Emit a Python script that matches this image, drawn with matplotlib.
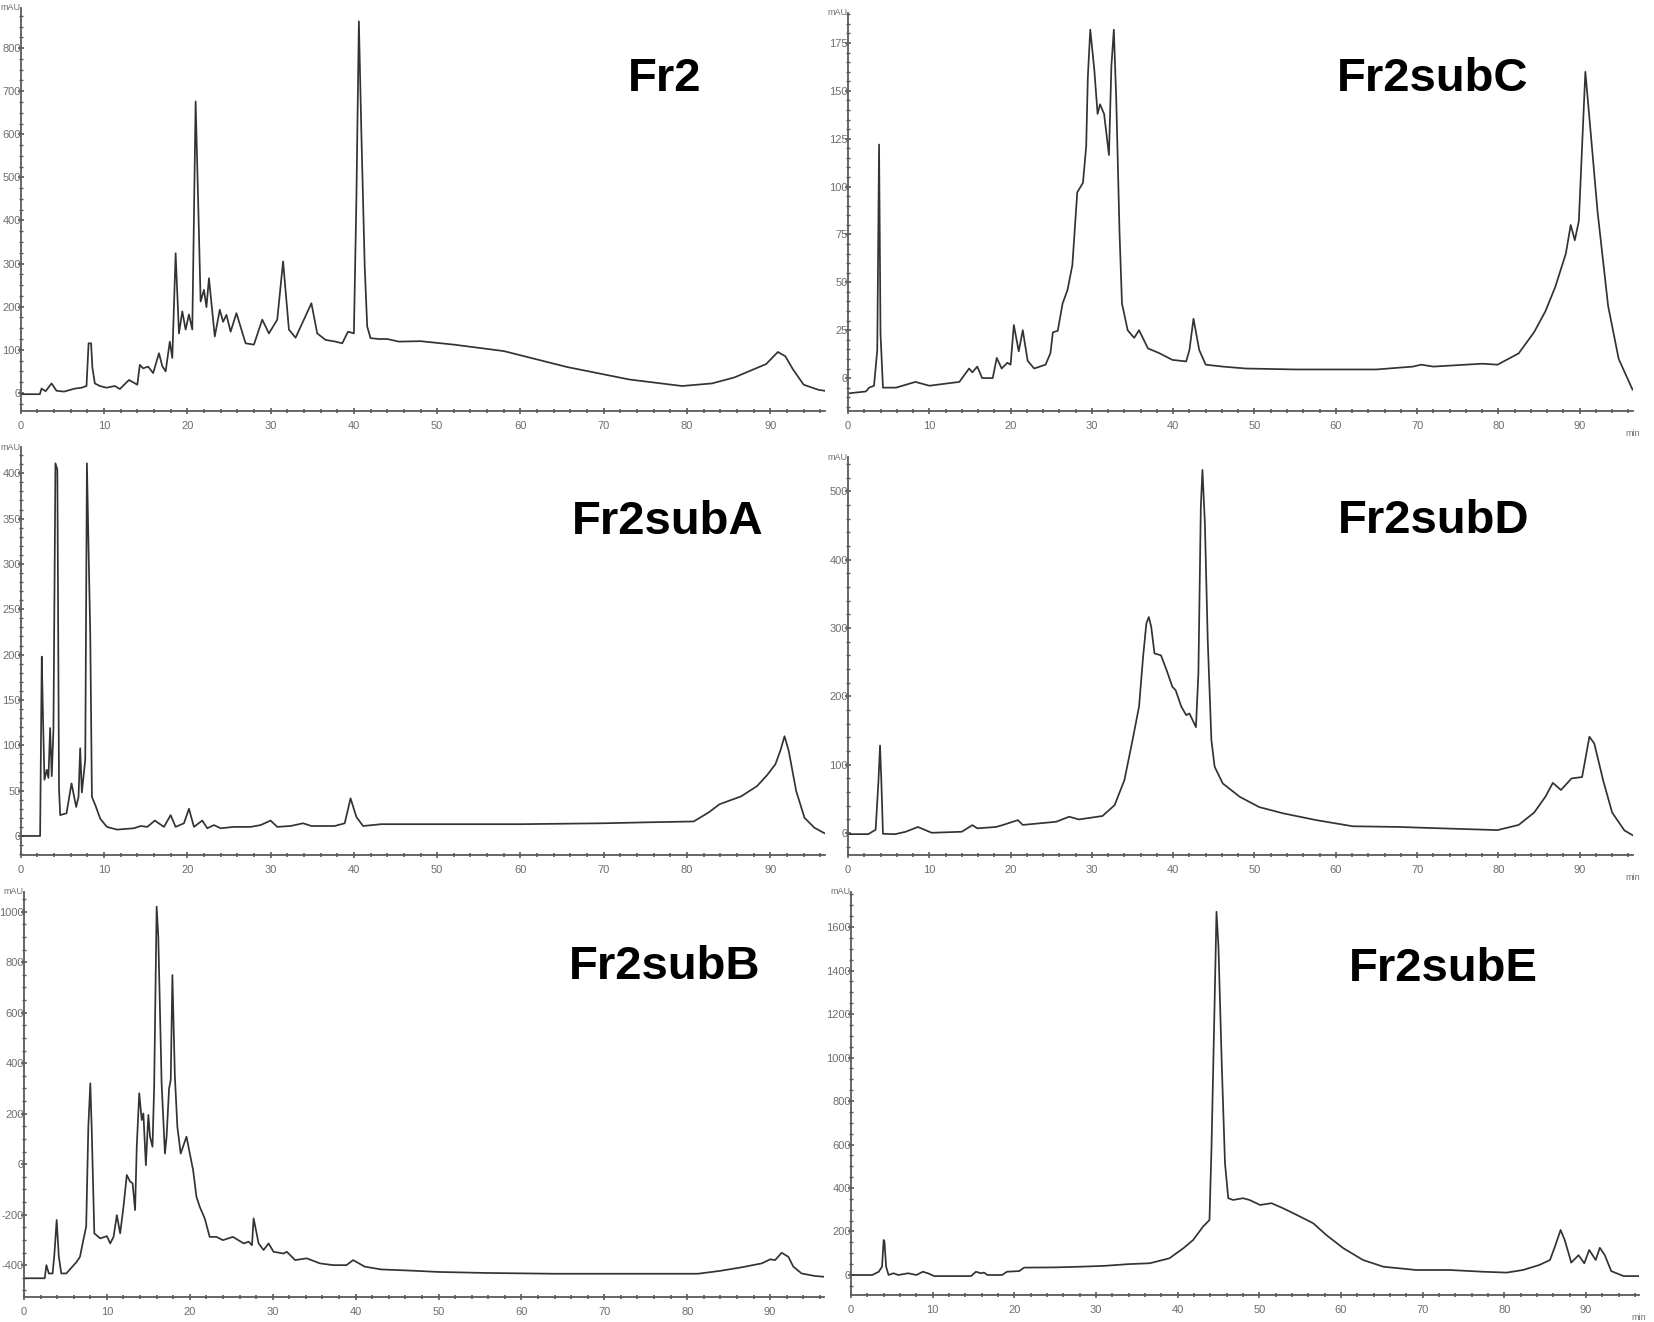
import matplotlib
matplotlib.use("Agg")
import matplotlib.pyplot as plt
from matplotlib.ticker import MultipleLocator

plt.rcParams['font.family'] = ['Liberation Sans', 'DejaVu Sans']
plt.rcParams['axes.unicode_minus'] = False

W, H = 1654, 1322

# ---------------- data (time in min, absorbance in mAU) ----------------
fr2_t = [0, 2.3, 2.5, 3.0, 3.7, 4.3, 5.2, 6.5, 7.3, 7.9, 8.15, 8.45, 8.6, 8.9, 9.5, 10.3,
         11.3, 11.9, 13.0, 14.0, 14.3, 14.7, 15.3, 15.9, 16.6, 17.0, 17.4, 17.9, 18.2, 18.6,
         19.0, 19.4, 19.8, 20.2, 20.6, 21.0, 21.3, 21.6, 22.0, 22.3, 22.6, 23.3, 23.9, 24.3,
         24.7, 25.2, 25.9, 27.0, 28.0, 29.0, 29.8, 30.8, 31.5, 32.2, 33.0, 34.0, 34.9, 35.6,
         36.6, 37.8, 38.6, 39.3, 40.0, 40.3, 40.6, 40.9, 41.3, 41.6, 42.0, 43.0, 44.0, 45.4,
         48, 52, 58, 65.6, 73.1, 79.4, 83, 85.7, 89.5, 90.9, 91.8, 92.7, 94.0, 95.8, 96.5]
fr2_v = [-3, -3, 10, 4, 22, 5, 3, 10, 12, 16, 115, 115, 60, 22, 16, 12,
         16, 9, 30, 19, 65, 57, 61, 46, 92, 62, 50, 119, 81, 324,
         138, 189, 147, 182, 147, 676, 448, 212, 239, 199, 266, 131, 193, 165,
         181, 142, 185, 115, 112, 170, 138, 170, 305, 147, 128, 170, 208, 138,
         123, 119, 115, 142, 138, 448, 862, 602, 293, 154, 127, 125, 125, 119,
         120, 112, 97, 60, 31, 16, 22, 36, 67, 95, 85, 55, 19, 7, 5]

subc_t = [0, 2.2, 2.6, 3.2, 3.6, 3.82, 4.0, 4.3, 5.9, 8.3, 10.0, 13.7, 14.9, 15.3, 15.9,
          16.5, 17.8, 18.3, 18.9, 19.6, 20.0, 20.4, 21.0, 21.5, 22.1, 22.9, 24.3, 24.9,
          25.2, 25.8, 26.4, 27.0, 27.6, 28.2, 28.9, 29.3, 29.5, 29.8, 30.3, 30.7, 31.0,
          31.5, 32.1, 32.4, 32.7, 33.0, 33.4, 33.7, 34.4, 35.2, 35.8, 36.9, 38.3, 39.9,
          41.6, 42.0, 42.5, 43.2, 44.0, 46.1, 48.9, 55, 65, 69.5, 70.5, 72, 78, 79.9,
          82.5, 84.4, 85.8, 87.0, 88.3, 88.9, 89.4, 89.9, 90.7, 91.3, 92.2, 93.5, 94.8, 96.5]
subc_v = [-8, -7, -5, -4, 14.6, 122, 23, -5, -5, -2, -4, -2, 5, 3, 6,
          0, 0, 10.5, 5, 8, 7, 27.7, 14, 25, 9, 5, 7, 13,
          23.9, 24.7, 39, 46, 59, 97, 102, 121, 157, 182, 161, 138, 143,
          138, 116.5, 163, 182, 145, 76, 39, 25, 21, 25, 15.5, 13, 9.5,
          8.7, 14.7, 31, 14.7, 7, 6, 5, 4.5, 4.5, 6, 7, 6, 7.5, 7,
          12.9, 24, 35, 47.6, 65, 80, 72, 82, 160, 131, 87, 37.7, 10, -6]

suba_t = [0, 2.33, 2.53, 2.65, 2.85, 3.13, 3.33, 3.53, 3.73, 3.93, 4.17, 4.4, 4.6, 4.74,
          5.5, 6.1, 6.66, 6.94, 7.14, 7.34, 7.75, 7.95, 8.15, 8.35, 8.55, 8.96, 9.55, 10.35,
          11.56, 13.6, 14.4, 15.2, 16.1, 17.2, 18.0, 18.6, 19.6, 20.2, 20.8, 21.8, 22.4,
          23.2, 24.0, 25.6, 27.6, 28.8, 30.0, 30.8, 32.4, 33.9, 34.9, 37.7, 38.9, 39.6,
          40.3, 41.1, 43.3, 48.1, 60, 70, 75, 80.8, 82.6, 83.9, 86.5, 88.4, 89.6, 90.6,
          91.2, 91.7, 92.2, 93.1, 94.1, 95.3, 96.5]
suba_v = [0, 0, 197.8, 142.6, 62, 73, 64, 119, 66, 117, 411, 404, 52.6, 23,
          25, 58, 32, 43, 96.7, 48, 84, 411, 315, 223, 43, 34, 19, 10,
          7, 8.5, 11, 10, 17, 10, 23, 10, 14, 30, 10, 17, 8.5,
          12, 8.5, 10, 10, 12, 17, 10, 11, 14, 11, 11, 14, 41.5,
          21, 11, 13, 13, 13, 14, 15, 16, 26, 35, 43.7, 55, 67, 79,
          94, 110, 94, 49.6, 20, 9, 3]

subd_t = [0, 2.5, 3.4, 3.75, 3.94, 4.1, 4.3, 5.8, 7.1, 8.6, 10.3, 14.0, 15.3, 15.9, 18.2,
          19.0, 20.9, 21.5, 25.6, 27.2, 28.4, 31.3, 32.8, 34.0, 35.0, 35.8, 36.3, 36.7,
          37.0, 37.3, 37.7, 38.5, 39.2, 39.9, 40.3, 41.0, 41.6, 42.0, 42.4, 42.8, 43.1,
          43.4, 43.6, 43.9, 44.25, 44.7, 45.1, 46.1, 48.2, 50.6, 53.5, 57.6, 62.1, 67.9,
          70.3, 79.9, 82.5, 84.4, 85.8, 86.7, 87.7, 89.0, 90.3, 91.2, 91.8, 92.9, 94.0,
          95.5, 96.5]
subd_v = [-1.5, -1.5, 5, 77, 128, 77, -1, -1.5, 2, 9, 0.5, 2, 11.7, 7, 9,
          11.7, 19, 12, 16.6, 24, 20, 25, 41, 77.5, 136, 185, 258, 306.6,
          316, 301.6, 262.7, 260, 238, 214, 209, 185, 172.5, 175, 165, 155, 233,
          477, 531, 453, 282, 136, 97, 72.6, 53, 38, 29, 19, 10, 9,
          8, 4.4, 12, 30, 53.5, 73.5, 63, 80, 82, 141, 131, 76.6, 30,
          4, -3]

subb_t = [0, 2.5, 2.7, 3.0, 3.45, 3.66, 3.94, 4.2, 4.5, 5.1, 6.35, 6.75, 7.2, 7.5, 7.76,
          8.0, 8.16, 8.48, 9.2, 10.0, 10.4, 10.8, 11.2, 11.6, 12.0, 12.4, 12.8, 13.1, 13.4,
          13.6, 13.9, 14.2, 14.4, 14.7, 15.0, 15.2, 15.5, 15.7, 16.0, 16.2, 16.6, 17.0,
          17.2, 17.5, 17.7, 17.9, 18.2, 18.5, 18.9, 19.6, 20.0, 20.4, 20.8, 21.2, 21.8,
          22.4, 23.2, 24.0, 25.2, 26.5, 27.1, 27.5, 27.7, 28.3, 28.9, 29.5, 30.1, 31.3,
          31.7, 32.7, 34.1, 35.7, 37.3, 38.9, 39.7, 41.1, 43.1, 46.9, 50.0, 55.8, 63.8,
          81.3, 83.9, 86.5, 89.0, 90.0, 90.6, 91.4, 92.2, 92.8, 93.8, 95.4, 96.5]
subb_v = [-452, -452, -400, -433, -433, -360, -221, -367, -433, -433, -387, -367, -294, -248, 148,
          320, 148, -274, -294, -285, -314, -288, -202, -274, -169, -43, -69, -76, -182,
          69, 281, 175, 201, -4, 195, 109, 69, 307, 1020, 901, 320, 42,
          109, 300, 333, 749, 347, 148, 42, 109, 42, -24, -129, -169, -215,
          -288, -288, -301, -288, -314, -307, -321, -215, -314, -340, -314, -347, -354,
          -347, -380, -373, -393, -400, -400, -380, -406, -417, -422, -427, -431, -434,
          -434, -423, -409, -393, -377, -380, -351, -367, -406, -433, -443, -446]

sube_t = [0, 2.6, 3.4, 3.8, 4.0, 4.1, 4.3, 4.6, 5.2, 5.8, 7.0, 8.0, 8.8, 9.4, 10.2, 14.7,
          15.3, 15.9, 16.3, 16.7, 18.5, 19.1, 20.6, 21.2, 25, 28, 31, 34, 36.6, 39.0, 40.7,
          41.9, 43.1, 43.9, 44.15, 44.5, 44.76, 45.0, 45.4, 45.8, 46.2, 46.8, 48.0, 48.8,
          50.1, 51.5, 52.9, 54.6, 56.6, 58.2, 60.3, 62.7, 65.2, 69.2, 73.3, 77.4, 80.3,
          82.3, 84.3, 85.6, 86.2, 86.9, 87.4, 88.0, 88.2, 89.1, 89.8, 90.4, 91.2, 91.7,
          92.3, 93.1, 94.6, 96.5]
sube_v = [0, 0, 15, 38, 161, 153, 38, 0, 8, 0, 8, 0, 15, 8, -5, -5,
          15, 8, 11, 0, 0, 15, 18, 34, 35, 38, 42, 50, 54, 77, 123,
          161, 222, 253, 590, 1203, 1670, 1509, 973, 513, 353, 345, 353, 345,
          322, 330, 307, 276, 238, 184, 123, 69, 38, 23, 23, 15, 11,
          23, 46, 69, 130, 207, 161, 84, 57, 91, 54, 115, 69, 125,
          92, 18, -5, -5]

titles = ["Fr2", "Fr2subC", "Fr2subA", "Fr2subD", "Fr2subB", "Fr2subE"]
series = [(fr2_t, fr2_v), (subc_t, subc_v), (suba_t, suba_v),
          (subd_t, subd_v), (subb_t, subb_v), (sube_t, sube_v)]
yticks = [list(range(0, 801, 100)), list(range(0, 176, 25)), list(range(0, 401, 50)),
          list(range(0, 501, 100)), list(range(-400, 1001, 200)), list(range(0, 1601, 200))]
xticks = list(range(0, 91, 10))

# ---------------- layout (pixels) ----------------
boxes = [(20.7, 824.5, 8, 411, (-42, 893), 4),
         (848, 1632.5, 13, 411, (-17.2, 190.7), 5),
         (20.7, 824.5, 447, 855, (-21, 429), 5),
         (848, 1632.5, 457, 855, (-32, 550), 5),
         (24, 824, 892, 1296.7, (-525, 1078), 4),
         (851, 1639, 892, 1295, (-92, 1761), 4)]
title_pos = [(665, 79), (1433, 79), (668, 522), (1434, 521), (665, 967), (1443, 969)]
show_min = [False, True, False, True, False, True]

fig = plt.figure(figsize=(W / 100, H / 100), dpi=100)
fig.patch.set_facecolor('white')

axis_col = '#5a5a5a'
lab_col = '#6e6e6e'
line_col = '#333333'

for i, ((t, v), box) in enumerate(zip(series, boxes)):
    l, r, tp, b, ylim, nminor = box
    ax = fig.add_axes([l / W, 1 - b / H, (r - l) / W, (b - tp) / H])
    ax.plot(t, v, color=line_col, lw=1.25, solid_joinstyle='round')
    ax.set_xlim(0, 96.5)
    ax.set_ylim(*ylim)
    for s in ['top', 'right']:
        ax.spines[s].set_visible(False)
    for s in ['left', 'bottom']:
        ax.spines[s].set_color(axis_col)
        ax.spines[s].set_linewidth(1.3)
    ax.set_xticks(xticks)
    ax.xaxis.set_minor_locator(MultipleLocator(2))
    ax.set_yticks(yticks[i])
    step = yticks[i][1] - yticks[i][0]
    ax.yaxis.set_minor_locator(MultipleLocator(step / nminor))
    ax.tick_params(axis='x', which='major', direction='inout', length=5, width=1.2,
                   color=axis_col, labelsize=8, labelcolor=lab_col, pad=5)
    ax.tick_params(axis='x', which='minor', direction='inout', length=3, width=1.2,
                   color=axis_col)
    ax.tick_params(axis='y', which='major', direction='inout', length=5, width=1.2,
                   color=axis_col, labelsize=8, labelcolor=lab_col, pad=-2.5)
    ax.tick_params(axis='y', which='minor', direction='inout', length=3, width=1.0,
                   color=axis_col)
    ax.set_facecolor('none')
    ax.text(0.0, 1.0, 'mAU', transform=ax.transAxes, ha='right', va='center',
            fontsize=6.5, color=lab_col)
    if show_min[i]:
        ax.text(1.0, -0.045, 'min', transform=ax.transAxes, ha='center', va='top',
                fontsize=6.5, color=lab_col)
    tx, ty = title_pos[i]
    fig.text(tx / W, 1 - ty / H, titles[i], ha='center', va='center',
             fontsize=34, fontweight='bold', color='black')

fig.savefig('out.png', dpi=100, facecolor='white')
